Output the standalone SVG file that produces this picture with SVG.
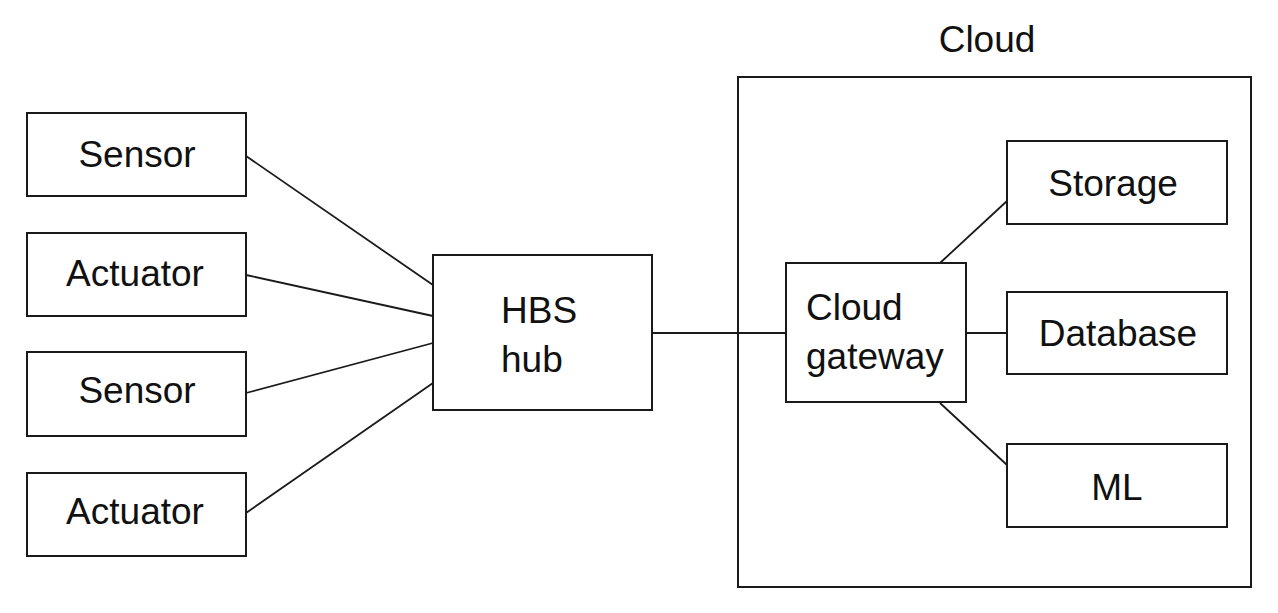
<svg xmlns="http://www.w3.org/2000/svg" width="1278" height="613" viewBox="0 0 1278 613">
<style>
.box{fill:#fff;stroke:#1a1a1a;stroke-width:2}
.frame{fill:none;stroke:#1a1a1a;stroke-width:2}
.ln{stroke:#1a1a1a;stroke-width:1.8;fill:none}
text{font-family:"Liberation Sans",Arial,sans-serif;font-size:37px;fill:#111}
.c{text-anchor:middle}
</style>
<rect width="1278" height="613" fill="#fff"/>
<g id="cloud">
<rect class="frame" x="738" y="77" width="513" height="510"/>
<text class="c" x="987" y="52">Cloud</text>
</g>
<g id="connectors">
<line class="ln" x1="246" y1="156" x2="433" y2="285"/>
<line class="ln" x1="246" y1="275" x2="433" y2="316"/>
<line class="ln" x1="246" y1="393" x2="433" y2="343"/>
<line class="ln" x1="246" y1="513" x2="433" y2="383"/>
<line class="ln" x1="652" y1="333" x2="786" y2="333"/>
<line class="ln" x1="940" y1="263" x2="1007" y2="201"/>
<line class="ln" x1="966" y1="333" x2="1007" y2="333"/>
<line class="ln" x1="940" y1="403" x2="1007" y2="465"/>
</g>
<g id="sensor1">
<rect class="box" x="27" y="113" width="219" height="83"/>
<text class="c" x="137" y="167">Sensor</text>
</g>
<g id="actuator1">
<rect class="box" x="27" y="233" width="219" height="83"/>
<text class="c" x="135" y="286">Actuator</text>
</g>
<g id="sensor2">
<rect class="box" x="27" y="352" width="219" height="84"/>
<text class="c" x="137" y="403">Sensor</text>
</g>
<g id="actuator2">
<rect class="box" x="27" y="473" width="219" height="83"/>
<text class="c" x="135" y="524">Actuator</text>
</g>
<g id="hbs-hub">
<rect class="box" x="433" y="255" width="219" height="155"/>
<text x="501" y="323">HBS</text>
<text x="501" y="372">hub</text>
</g>
<g id="cloud-gateway">
<rect class="box" x="786" y="263" width="180" height="139"/>
<text x="806" y="320">Cloud</text>
<text x="806" y="369">gateway</text>
</g>
<g id="storage">
<rect class="box" x="1007" y="141" width="220" height="83"/>
<text class="c" x="1113" y="196">Storage</text>
</g>
<g id="database">
<rect class="box" x="1007" y="292" width="220" height="82"/>
<text class="c" x="1118" y="346">Database</text>
</g>
<g id="ml">
<rect class="box" x="1007" y="444" width="220" height="83"/>
<text class="c" x="1117" y="500">ML</text>
</g>
</svg>
